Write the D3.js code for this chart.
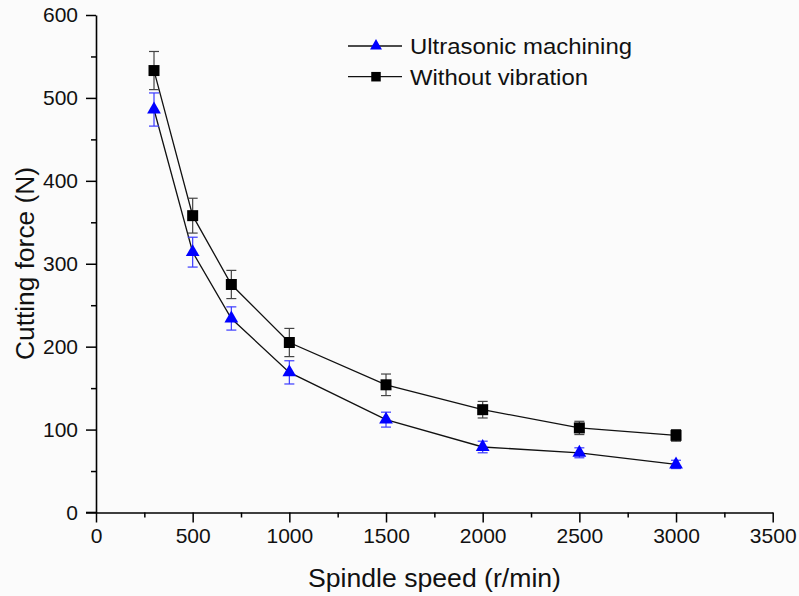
<!DOCTYPE html>
<html>
<head>
<meta charset="utf-8">
<script src="https://cdn.jsdelivr.net/npm/d3@7"></script>
<style>
  body { margin: 0; background: #fbfbfb; }
  svg { display: block; font-family: "Liberation Sans", Arial, sans-serif; }
</style>
</head>
<body>
<svg id="chart" width="799" height="596"></svg>
<script>
// data
const speeds = [300, 500, 700, 1000, 1500, 2000, 2500, 3000];
const ultrasonic = [486, 314, 234, 169, 112, 79, 72, 58];
const ultrasonicErr = [20, 18, 14, 14, 9, 7, 6, 5];
const withoutVib = [533, 358, 275, 205, 154, 124, 102, 93];
const withoutVibErr = [23, 21, 17, 17, 13, 10, 8, 7];

const xTicks = [0, 500, 1000, 1500, 2000, 2500, 3000, 3500];
const yTicks = [0, 100, 200, 300, 400, 500, 600];
const seriesNames = ["Ultrasonic machining", "Without vibration"];

const svg = d3.select("#chart");

const x = d3.scaleLinear().domain([0, 3500]).range([96, 772.7]);
const y = d3.scaleLinear().domain([0, 600]).range([512.5, 15]);

// minor ticks first, then major with labels
svg.append("g")
  .attr("transform", `translate(0,${y(0)})`)
  .call(d3.axisBottom(x).tickValues(d3.range(250, 3500, 500)).tickSize(5).tickFormat(""))
  .call(g => g.select(".domain").remove());
svg.append("g")
  .attr("transform", `translate(${x(0)},0)`)
  .call(d3.axisLeft(y).tickValues(d3.range(50, 600, 100)).tickSize(5).tickFormat(""))
  .call(g => g.select(".domain").remove());

const xAxis = svg.append("g")
  .attr("transform", `translate(0,${y(0)})`)
  .call(d3.axisBottom(x).tickValues(xTicks).tickSize(10).tickSizeOuter(0).tickPadding(6).tickFormat(d3.format("d")));
const yAxis = svg.append("g")
  .attr("transform", `translate(${x(0)},0)`)
  .call(d3.axisLeft(y).tickValues(yTicks).tickSize(10).tickSizeOuter(0).tickPadding(8).tickFormat(d3.format("d")));

[xAxis, yAxis].forEach(a => {
  a.selectAll("line").attr("stroke", "#000").attr("stroke-width", 1.5);
  a.select(".domain").attr("stroke", "#000").attr("stroke-width", 1.6);
  a.selectAll("text").attr("font-size", "21px").attr("fill", "#111").attr("font-family", null);
});
svg.selectAll("g line").attr("stroke-width", 1.5);

// x axis line reaches a bit left of the y axis
svg.append("line")
  .attr("x1", x(0) - 10).attr("x2", x(0))
  .attr("y1", y(0)).attr("y2", y(0))
  .attr("stroke", "#000").attr("stroke-width", 1.6);

// titles
svg.append("text")
  .attr("x", 434.5).attr("y", 587)
  .attr("text-anchor", "middle")
  .attr("font-size", "25px").attr("fill", "#111")
  .attr("textLength", 253).attr("lengthAdjust", "spacingAndGlyphs")
  .text("Spindle speed (r/min)");
svg.append("text")
  .attr("transform", "translate(34,263.5) rotate(-90)")
  .attr("text-anchor", "middle")
  .attr("font-size", "25px").attr("fill", "#111")
  .attr("textLength", 193).attr("lengthAdjust", "spacingAndGlyphs")
  .text("Cutting force (N)");

const series = [
  { name: seriesNames[0], values: ultrasonic, errs: ultrasonicErr, color: "#0000ff", errColor: "#3a3aff",
    symbol: d3.symbolTriangle, size: 82, textLen: 222 },
  { name: seriesNames[1], values: withoutVib, errs: withoutVibErr, color: "#000", errColor: "#444",
    symbol: d3.symbolSquare, size: 121, textLen: 178 }
];

const line = d3.line().x(d => x(d.s)).y(d => y(d.v));

series.forEach(sr => {
  const pts = speeds.map((s, i) => ({ s, v: sr.values[i], e: sr.errs[i] }));

  svg.append("path")
    .datum(pts)
    .attr("d", line)
    .attr("fill", "none")
    .attr("stroke", "#111")
    .attr("stroke-width", 1.3);

  const eb = svg.append("g").attr("stroke", sr.errColor).attr("stroke-width", 1.2);
  pts.forEach(p => {
    eb.append("line").attr("x1", x(p.s)).attr("x2", x(p.s)).attr("y1", y(p.v - p.e)).attr("y2", y(p.v + p.e));
    eb.append("line").attr("x1", x(p.s) - 5).attr("x2", x(p.s) + 5).attr("y1", y(p.v - p.e)).attr("y2", y(p.v - p.e));
    eb.append("line").attr("x1", x(p.s) - 5).attr("x2", x(p.s) + 5).attr("y1", y(p.v + p.e)).attr("y2", y(p.v + p.e));
  });

  svg.append("g").selectAll("path")
    .data(pts)
    .join("path")
    .attr("transform", d => `translate(${x(d.s)},${y(d.v)})`)
    .attr("d", d3.symbol().type(sr.symbol).size(sr.size))
    .attr("fill", sr.color);
});

// legend
const legend = svg.append("g");
series.forEach((sr, i) => {
  const ly = 46 + i * 30.7;
  legend.append("line")
    .attr("x1", 348).attr("x2", 402).attr("y1", ly).attr("y2", ly)
    .attr("stroke", "#111").attr("stroke-width", 1.3);
  legend.append("path")
    .attr("transform", `translate(376,${ly})`)
    .attr("d", d3.symbol().type(sr.symbol).size(sr.size * 0.75))
    .attr("fill", sr.color);
  legend.append("text")
    .attr("x", 410).attr("y", ly).attr("dy", "0.36em")
    .attr("font-size", "22px").attr("fill", "#111")
    .attr("textLength", sr.textLen).attr("lengthAdjust", "spacingAndGlyphs")
    .text(sr.name);
});
</script>
</body>
</html>
